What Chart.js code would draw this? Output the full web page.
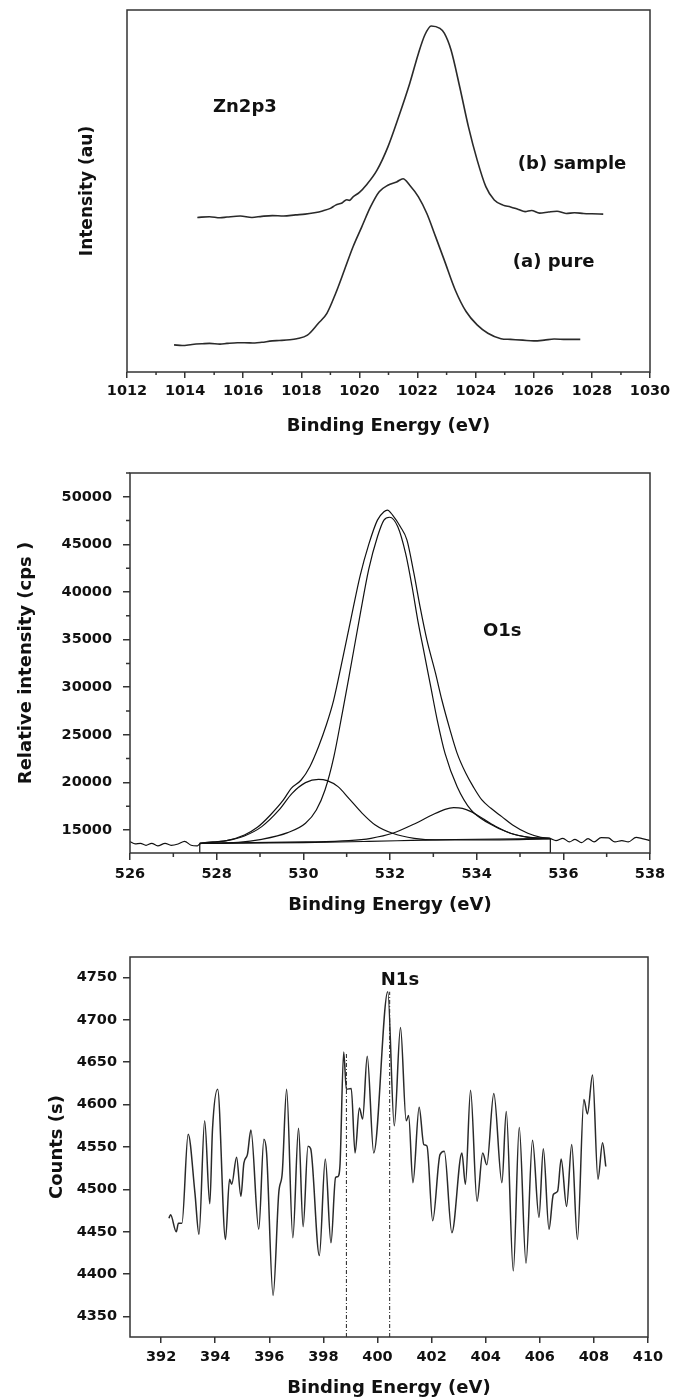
<!DOCTYPE html>
<html>
<head>
<meta charset="utf-8">
<title>XPS spectra</title>
<script src="https://cdn.jsdelivr.net/npm/chart.js@4.4.1/dist/chart.umd.min.js"></script>
<style>
  html, body { margin: 0; padding: 0; background: #fff; }
  #page { position: relative; width: 683px; height: 1400px; }
  canvas { position: absolute; left: 0; }
</style>
</head>
<body>
<div id="page">
  <canvas id="zn" width="683" height="440" style="top:0px"></canvas>
  <canvas id="o1s" width="683" height="485" style="top:440px"></canvas>
  <canvas id="n1s" width="683" height="475" style="top:925px"></canvas>
</div>
<script>
// ---------- Zn2p3 (top panel, arbitrary units) ----------
const znPureE = [1013.62, 1013.9, 1014.24, 1014.6, 1014.84, 1015.2, 1015.44, 1015.8, 1016.04, 1016.4, 1016.64, 1017.0, 1017.24, 1017.6, 1017.84, 1018.21, 1018.58, 1018.88, 1019.18, 1019.48, 1019.78, 1020.08, 1020.38, 1020.68, 1020.98, 1021.28, 1021.5, 1021.73, 1022.03, 1022.32, 1022.62, 1022.92, 1023.3, 1023.67, 1024.05, 1024.42, 1024.87, 1025.2, 1025.62, 1026.0, 1026.36, 1026.7, 1027.11, 1027.6];
const znPureI = [7.5, 7.3, 7.6, 7.8, 7.9, 7.7, 7.9, 8.1, 8.1, 8.0, 8.2, 8.6, 8.7, 8.9, 9.2, 10.2, 13.4, 16.2, 21.7, 28.1, 34.6, 40.1, 45.6, 49.8, 51.6, 52.5, 53.4, 51.6, 48.4, 43.8, 37.4, 30.9, 22.6, 16.7, 13.0, 10.7, 9.2, 9.0, 8.8, 8.6, 8.8, 9.1, 9.0, 9.0];
const znSampleE = [1014.42, 1014.84, 1015.2, 1015.44, 1015.9, 1016.3, 1016.64, 1017.0, 1017.39, 1017.8, 1018.13, 1018.45, 1018.73, 1019.0, 1019.18, 1019.4, 1019.56, 1019.65, 1019.78, 1020.0, 1020.23, 1020.6, 1020.98, 1021.35, 1021.73, 1022.03, 1022.25, 1022.47, 1022.77, 1022.92, 1023.15, 1023.45, 1023.75, 1024.05, 1024.35, 1024.64, 1024.94, 1025.2, 1025.47, 1025.7, 1025.92, 1026.2, 1026.51, 1026.8, 1027.11, 1027.4, 1027.71, 1028.0, 1028.39];
const znSampleI = [42.7, 42.9, 42.6, 42.8, 43.1, 42.7, 43.0, 43.2, 43.1, 43.4, 43.6, 44.0, 44.5, 45.2, 46.1, 46.7, 47.6, 47.4, 48.4, 49.6, 51.6, 55.7, 62.2, 70.5, 79.7, 88.0, 93.1, 95.6, 94.9, 93.6, 89.0, 78.8, 67.8, 58.6, 51.2, 47.5, 46.1, 45.6, 44.9, 44.3, 44.6, 43.9, 44.2, 44.4, 43.8, 44.0, 43.8, 43.7, 43.6];
const znTicks = [1012, 1014, 1016, 1018, 1020, 1022, 1024, 1026, 1028, 1030];
const znMinor = [1013, 1015, 1017, 1019, 1021, 1023, 1025, 1027, 1029];

// ---------- O1s (middle panel, cps) ----------
const oDataE = [526.0, 526.12, 526.24, 526.37, 526.5, 526.64, 526.81, 526.95, 527.11, 527.26, 527.41, 527.55, 527.61, 528.03, 528.23, 528.64, 528.94, 529.24, 529.54, 529.72, 529.95, 530.15, 530.35, 530.53, 530.7, 530.9, 531.1, 531.31, 531.51, 531.71, 531.86, 531.94, 532.06, 532.24, 532.39, 532.55, 532.7, 532.85, 533.05, 533.2, 533.38, 533.55, 533.75, 533.92, 534.12, 534.33, 534.58, 534.83, 535.18, 535.48, 535.7, 535.83, 535.99, 536.14, 536.27, 536.42, 536.57, 536.71, 536.87, 537.04, 537.19, 537.35, 537.5, 537.68, 537.82, 538.0];
const oDataI = [13775, 13530, 13600, 13390, 13600, 13320, 13600, 13390, 13530, 13810, 13390, 13320, 13530, 13775, 13880, 14475, 15280, 16575, 18150, 19375, 20250, 21650, 23750, 26025, 28650, 32850, 37200, 41700, 45000, 47550, 48425, 48600, 48075, 46850, 45480, 42000, 38300, 35000, 31470, 28600, 25600, 23050, 20950, 19550, 18150, 17275, 16400, 15525, 14650, 14230, 14090, 13880, 14125, 13740, 14020, 13670, 14090, 13740, 14195, 14160, 13740, 13880, 13740, 14230, 14090, 13880];
const oMainE = [527.61, 528.5, 529.04, 529.64, 530.05, 530.3, 530.5, 530.7, 530.9, 531.05, 531.31, 531.51, 531.71, 531.86, 531.99, 532.18, 532.36, 532.51, 532.64, 532.79, 532.94, 533.09, 533.27, 533.55, 533.87, 534.28, 534.78, 535.23, 535.7];
const oMainI = [13600, 13700, 14020, 14720, 15700, 17100, 19200, 22600, 27300, 31000, 37600, 42400, 45800, 47550, 47850, 46850, 44050, 40550, 37050, 33550, 30050, 26550, 23050, 19550, 17100, 15700, 14650, 14230, 14125];
const oLowE = [527.61, 528.23, 528.64, 529.04, 529.44, 529.74, 530.05, 530.35, 530.55, 530.8, 531.05, 531.36, 531.66, 532.06, 532.56, 533.07, 534.07, 535.7];
const oLowI = [13600, 13880, 14370, 15350, 17100, 18850, 19970, 20320, 20180, 19550, 18325, 16750, 15525, 14650, 14125, 13950, 13950, 14050];
const oHighE = [527.61, 530.05, 531.05, 531.56, 532.06, 532.56, 532.97, 533.27, 533.47, 533.67, 533.87, 534.17, 534.48, 534.78, 535.18, 535.7];
const oHighI = [13600, 13740, 13880, 14125, 14650, 15630, 16575, 17170, 17345, 17275, 16925, 16120, 15280, 14650, 14230, 14090];
const oBaseE = [527.61, 530.0, 531.5, 532.5, 533.5, 535.7];
const oBaseI = [13600, 13680, 13800, 13900, 14000, 14110];
const oRegionE = [527.61, 527.61, 535.7, 535.7];
const oRegionI = [13600, 12580, 12580, 14110];
const oXTicks = [526, 528, 530, 532, 534, 536, 538];
const oXMinor = [527, 529, 531, 533, 535, 537];
const oYTicks = [15000, 20000, 25000, 30000, 35000, 40000, 45000, 50000];
const oYMinor = [17500, 22500, 27500, 32500, 37500, 42500, 47500, 52500];

// ---------- N1s (bottom panel, counts) ----------
const nE = [392.29, 392.35, 392.56, 392.64, 392.77, 393.0, 393.25, 393.4, 393.61, 393.8, 393.9, 394.09, 394.38, 394.53, 394.61, 394.79, 394.95, 395.06, 395.19, 395.32, 395.61, 395.8, 395.9, 396.14, 396.35, 396.48, 396.64, 396.87, 397.08, 397.25, 397.43, 397.53, 397.85, 398.07, 398.28, 398.45, 398.53, 398.61, 398.75, 398.85, 399.03, 399.17, 399.33, 399.45, 399.62, 399.86, 400.38, 400.62, 400.85, 401.06, 401.15, 401.31, 401.54, 401.71, 401.83, 402.04, 402.31, 402.47, 402.75, 403.12, 403.25, 403.44, 403.68, 403.89, 404.04, 404.3, 404.6, 404.76, 405.02, 405.24, 405.49, 405.73, 405.97, 406.13, 406.34, 406.5, 406.66, 406.79, 406.99, 407.18, 407.39, 407.63, 407.76, 407.95, 408.15, 408.32, 408.44];
const nC = [4466, 4470, 4450, 4460, 4460, 4565, 4496, 4447, 4581, 4483, 4571, 4618, 4441, 4512, 4506, 4538, 4492, 4531, 4541, 4570, 4453, 4559, 4543, 4375, 4496, 4520, 4618, 4443, 4572, 4456, 4551, 4548, 4422, 4536, 4437, 4514, 4515, 4527, 4662, 4618, 4619, 4543, 4596, 4583, 4657, 4543, 4733, 4575, 4691, 4581, 4587, 4508, 4597, 4553, 4551, 4463, 4541, 4545, 4449, 4543, 4506, 4617, 4486, 4543, 4529, 4613, 4508, 4592, 4404, 4573, 4413, 4558, 4467, 4548, 4453, 4494, 4498, 4536, 4480, 4553, 4441, 4606, 4589, 4635, 4512, 4555, 4527];
const nMarkE = [398.85, 400.45];
const nMarkTop = [4660, 4733];
const nXTicks = [392, 394, 396, 398, 400, 402, 404, 406, 408, 410];
const nYTicks = [4350, 4400, 4450, 4500, 4550, 4600, 4650, 4700, 4750];

const FONT = '"DejaVu Sans"';
const INK = '#111';
const pts = (xs, ys) => xs.map((x, i) => ({ x: x, y: ys[i] }));

// one curve
const line = (data, color, width, extra) => Object.assign({
	data: data,
	showLine: true,
	borderColor: color,
	borderWidth: width,
	pointRadius: 0,
	fill: false,
	cubicInterpolationMode: 'monotone'
}, extra || {});

// frame, minor ticks and text notes, placed through the chart scales
const decor = (minorX, minorY, minorLen, notes) => ({
	id: 'decor',
	afterDraw: (chart) => {
		const { ctx, chartArea: a, scales } = chart;
		ctx.save();
		ctx.strokeStyle = '#333';
		ctx.lineWidth = 1.5;
		ctx.strokeRect(a.left, a.top, a.right - a.left, a.bottom - a.top);
		ctx.beginPath();
		minorX.forEach((v) => {
			const px = scales.x.getPixelForValue(v);
			ctx.moveTo(px, a.bottom);
			ctx.lineTo(px, a.bottom + minorLen);
		});
		minorY.forEach((v) => {
			const py = scales.y.getPixelForValue(v);
			ctx.moveTo(a.left, py);
			ctx.lineTo(a.left - minorLen, py);
		});
		ctx.stroke();
		ctx.fillStyle = INK;
		ctx.font = 'bold 18px ' + FONT;
		ctx.textBaseline = 'middle';
		notes.forEach((n) => {
			ctx.textAlign = n.align;
			ctx.fillText(n.text, scales.x.getPixelForValue(n.x), scales.y.getPixelForValue(n.y));
		});
		ctx.restore();
	}
});

// shared axis builder
const axis = (o) => ({
	type: 'linear',
	position: o.pos,
	min: o.min,
	max: o.max,
	border: { display: false },
	grid: { display: o.tickList.length > 0, drawOnChartArea: false, drawTicks: true, tickLength: o.tickLen, color: '#333', lineWidth: 1.5 },
	ticks: {
		display: o.tickList.length > 0,
		font: { family: FONT, size: 14.5, weight: 'bold' },
		color: INK,
		padding: o.pad,
		maxRotation: 0,
		autoSkip: false,
		callback: (v) => String(v)
	},
	afterBuildTicks: (s) => { if (o.tickList.length) s.ticks = o.tickList.map((v) => ({ value: v })); },
	afterFit: (s) => { if (o.pos === 'bottom') s.height = o.size; else s.width = o.size; },
	title: {
		display: true,
		text: o.title,
		color: INK,
		font: { family: FONT, size: o.titleSize, weight: 'bold' },
		padding: o.pos === 'bottom' ? { top: 0, bottom: o.titlePad } : { top: o.titlePad, bottom: 0 }
	}
});

const makeChart = (id, datasets, pad, xAxis, yAxis, plugin) => new Chart(document.getElementById(id), {
	type: 'scatter',
	data: { datasets: datasets },
	options: {
		responsive: false,
		animation: false,
		devicePixelRatio: 1,
		layout: { padding: { top: pad.top, right: pad.right, left: 0, bottom: 0 } },
		plugins: { legend: { display: false }, tooltip: { enabled: false } },
		scales: { x: axis(xAxis), y: axis(yAxis) }
	},
	plugins: [plugin]
});

// top panel
makeChart('zn', [
	line(pts(znSampleE, znSampleI), '#2a2a2a', 1.6),
	line(pts(znPureE, znPureI), '#2a2a2a', 1.6)
], { top: 10, right: 33 },
	{ pos: 'bottom', min: 1012, max: 1030, tickList: znTicks, tickLen: 6, pad: 5, size: 68, title: 'Binding Energy (eV)', titleSize: 18, titlePad: 3 },
	{ pos: 'left', min: 0, max: 100, tickList: [], tickLen: 0, pad: 0, size: 127, title: 'Intensity (au)', titleSize: 17, titlePad: 77 },
	decor(znMinor, [], 3, [
		{ text: 'Zn2p3', x: 1014.96, y: 73.2, align: 'left' },
		{ text: '(b) sample', x: 1025.45, y: 57.5, align: 'left' },
		{ text: '(a) pure', x: 1025.28, y: 30.4, align: 'left' }
	]));

// middle panel
makeChart('o1s', [
	line(pts(oDataE, oDataI), '#111', 1.2),
	line(pts(oMainE, oMainI), '#111', 1.2),
	line(pts(oLowE, oLowI), '#111', 1.2),
	line(pts(oHighE, oHighI), '#111', 1.2),
	line(pts(oBaseE, oBaseI), '#111', 1.2),
	line(pts(oRegionE, oRegionI), '#111', 1.2, { cubicInterpolationMode: 'default', tension: 0 })
], { top: 33, right: 33 },
	{ pos: 'bottom', min: 526, max: 538, tickList: oXTicks, tickLen: 7, pad: 6, size: 72, title: 'Binding Energy (eV)', titleSize: 18, titlePad: 9 },
	{ pos: 'left', min: 12580, max: 52500, tickList: oYTicks, tickLen: 7, pad: 11, size: 130, title: 'Relative intensity (cps )', titleSize: 18, titlePad: 16 },
	decor(oXMinor, oYMinor, 4, [
		{ text: 'O1s', x: 534.59, y: 35900, align: 'center' }
	]));

// bottom panel
const nSets = [line(pts(nE, nC), '#2a2a2a', 1.5)];
nMarkE.forEach((e, i) => {
	nSets.push(line(pts([e, e], [4326, nMarkTop[i]]), '#222', 1, { cubicInterpolationMode: 'default', tension: 0, borderDash: [4, 2, 1, 2] }));
});
makeChart('n1s', nSets, { top: 32, right: 35 },
	{ pos: 'bottom', min: 390.85, max: 410, tickList: nXTicks, tickLen: 6, pad: 6, size: 63, title: 'Binding Energy (eV)', titleSize: 18, titlePad: 1 },
	{ pos: 'left', min: 4326, max: 4774, tickList: nYTicks, tickLen: 7, pad: 6, size: 130, title: 'Counts (s)', titleSize: 18, titlePad: 47 },
	decor([], [], 0, [
		{ text: 'N1s', x: 400.83, y: 4746, align: 'center' }
	]));
</script>
</body>
</html>
